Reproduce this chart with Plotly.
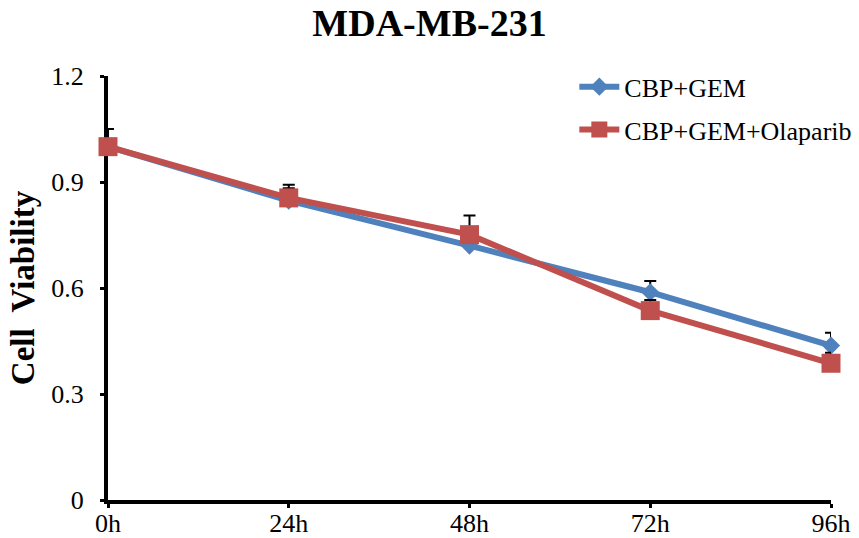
import plotly.graph_objects as go

categories = ["0h", "24h", "48h", "72h", "96h"]
gem = [1.0, 0.847, 0.72, 0.588, 0.437]
gem_err = [0.05, 0.035, 0.04, 0.032, 0.036]
ola = [1.0, 0.855, 0.751, 0.536, 0.387]
ola_err = [0.05, 0.037, 0.054, 0.03, 0.03]
yticks = [0, 0.3, 0.6, 0.9, 1.2]
ytick_text = ["0", "0.3", "0.6", "0.9", "1.2"]

xpos = list(range(len(categories)))
font = "Liberation Serif, Times New Roman, serif"

fig = go.Figure()
fig.add_trace(go.Scatter(
    x=xpos, y=gem, name="CBP+GEM", mode="lines+markers", legendgroup="a",
    line=dict(color="#4F81BD", width=6),
    marker=dict(symbol="diamond", size=14, color="#4F81BD"),
    error_y=dict(type="data", array=gem_err, symmetric=False,
                 arrayminus=[0]*len(gem), color="black", thickness=2, width=6),
    cliponaxis=False,
))
fig.add_trace(go.Scatter(
    x=xpos, y=ola, name="CBP+GEM+Olaparib", mode="lines+markers", legendgroup="b",
    line=dict(color="#C0504D", width=6),
    marker=dict(symbol="square", size=19, color="#C0504D"),
    error_y=dict(type="data", array=ola_err, symmetric=False,
                 arrayminus=[0]*len(ola), color="black", thickness=2, width=6),
    cliponaxis=False,
))

fig.update_layout(
    template="none",
    width=859, height=538,
    margin=dict(l=108, r=28, t=76, b=38, autoexpand=False),
    paper_bgcolor="white", plot_bgcolor="white",
    font=dict(family=font, color="black", size=26),
    title=dict(text="<b>MDA-MB-231</b>", x=0.5, xanchor="center", y=0.957,
               yanchor="middle", font=dict(size=38, family=font)),
    showlegend=True,
    legend=dict(x=0.645, y=1.03, xanchor="left", yanchor="top",
                font=dict(size=26, family=font), bgcolor="rgba(0,0,0,0)",
                tracegroupgap=6, itemwidth=40, borderwidth=0),
    xaxis=dict(range=[0, 4], tickvals=xpos, ticktext=categories, automargin=False,
               showgrid=False, zeroline=False, showline=True, linecolor="black",
               linewidth=4, ticks="outside", ticklen=4, tickwidth=3,
               tickcolor="black", layer="below traces", ticklabelstandoff=-7,
               tickfont=dict(size=26, family=font)),
    yaxis=dict(range=[0, 1.2], tickvals=yticks, ticktext=ytick_text, automargin=False,
               showgrid=False, zeroline=False, showline=True, linecolor="black",
               linewidth=4, ticks="outside", ticklen=4, tickwidth=3,
               tickcolor="black", layer="below traces", ticklabelstandoff=11,
               title=dict(text="<b>Cell  Viability</b>", font=dict(size=33, family=font), standoff=8),
               tickfont=dict(size=26, family=font)),
)

fig.write_html("out.html", config={"displayModeBar": False},
               post_script="document.body.style.margin='0';document.body.style.padding='0';")
